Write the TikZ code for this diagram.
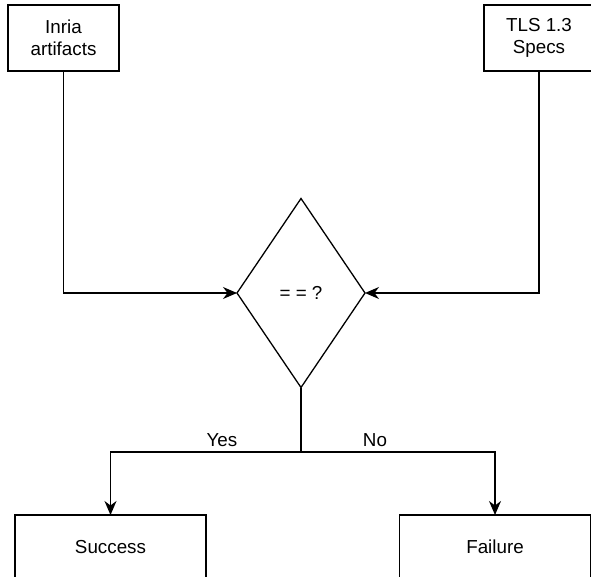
\documentclass[tikz,border=0pt]{standalone}
\usepackage{fontspec}
\setmainfont{Liberation Sans}
\usetikzlibrary{arrows.meta}
\usetikzlibrary{shapes.geometric}

\begin{document}
\begin{tikzpicture}[x=1pt, y=-1pt, line width=1.3pt,
        font=\fontsize{18.8}{22}\selectfont,
        box/.style={draw, rectangle, align=center, inner sep=0pt, outer sep=0pt},
        check/.style={draw, diamond, inner sep=0pt, outer sep=0pt, minimum width=128pt, minimum height=189pt},
        flow/.style={-{Stealth[length=14pt, width=12pt, inset=4.5pt]}}]
            \useasboundingbox (0,0) rectangle (591,577);
            \node [box, minimum width=111pt, minimum height=66pt] (inria) at (63.5, 38) {Inria\\artifacts};
            \node [box, minimum width=110pt, minimum height=66pt] (tls) at (539, 38) {TLS 1.3\\Specs};
            \node [check] (check) at (301, 293) {= = ?};
            \node [box, minimum width=191pt, minimum height=64pt] (success) at (110.5, 547) {Success};
            \node [box, minimum width=191pt, minimum height=64pt] (failure) at (495, 547) {Failure};
            \coordinate (split) at (301, 452);
            \draw [flow] (inria.south) |- (check.west);
            \draw [flow] (tls.south) |- (check.east);
            \draw (check.south) -- (split);
            \draw [flow] (split) -| (success.north);
            \draw [flow] (split) -| (failure.north);
            \node (yes) at (222, 440) {Yes};
            \node (no) at (375, 440) {No};
        \end{tikzpicture}
\end{document}
